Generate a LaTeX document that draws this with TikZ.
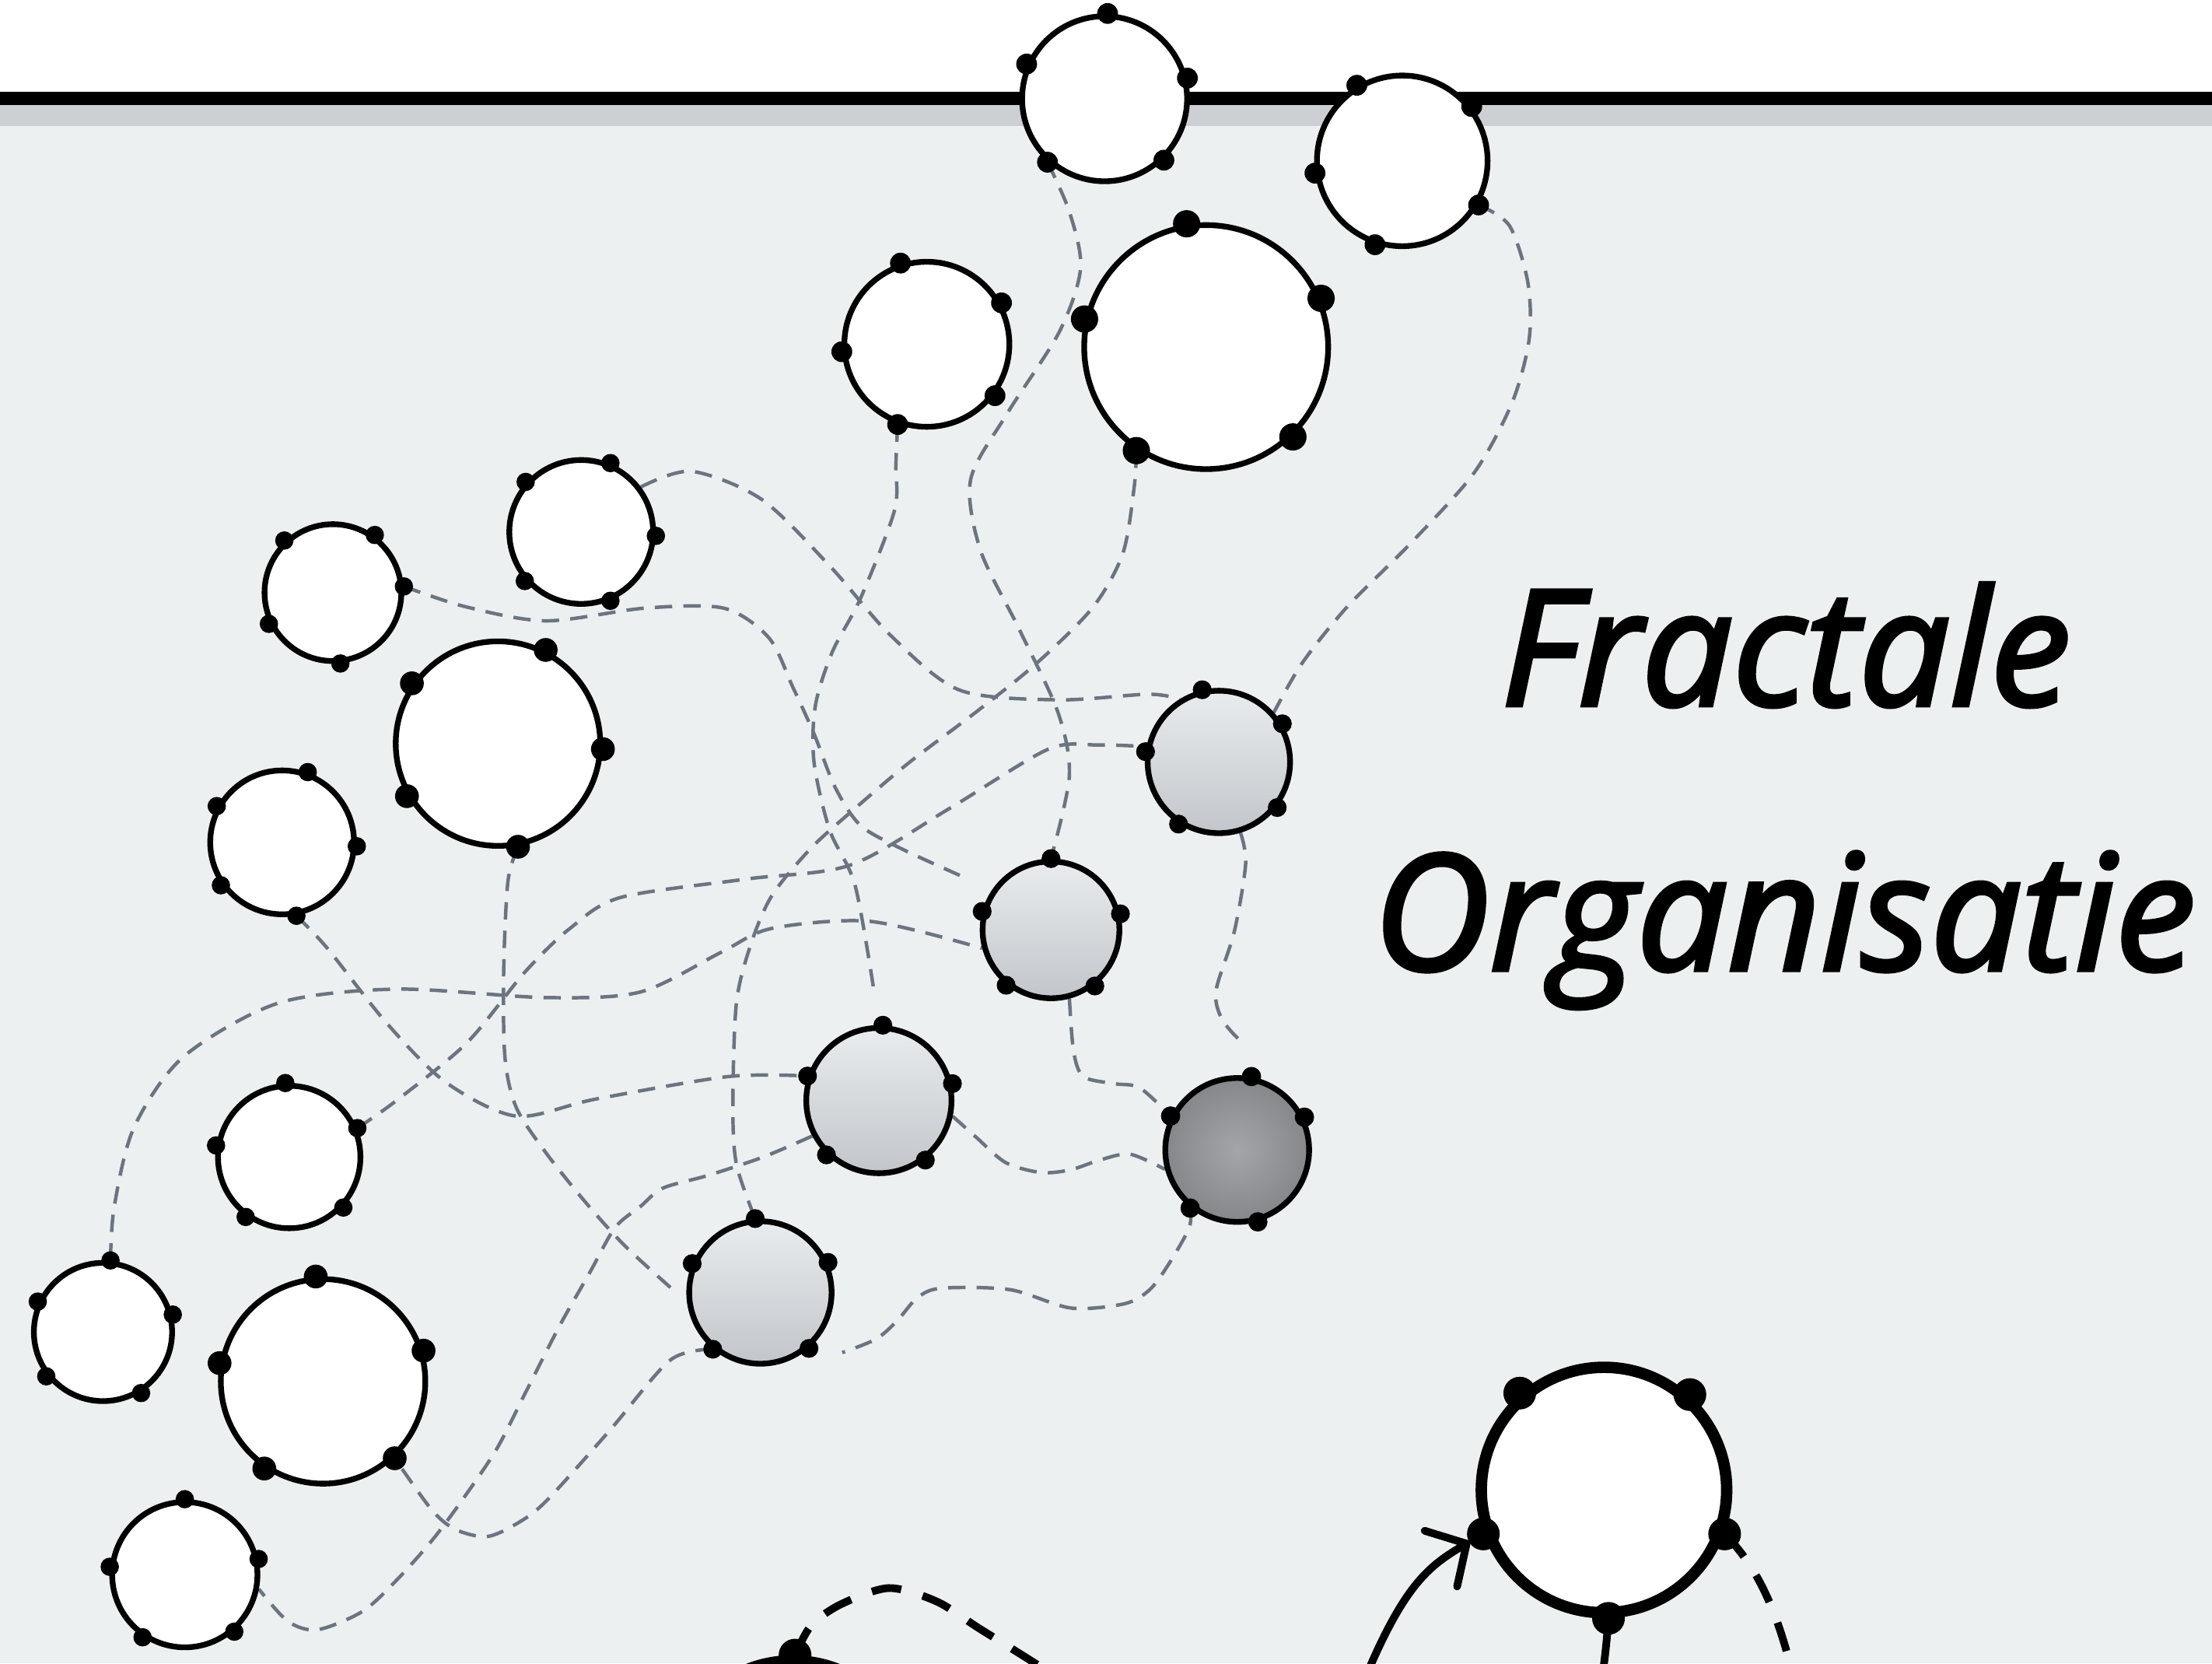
\documentclass[tikz,border=0pt]{standalone}
\usepackage{fontspec}
\newfontfamily\titlefont[FakeBold=2.5]{Open Sans}
\usetikzlibrary{arrows.meta}
\definecolor{panel}{HTML}{ECF0F1}
\definecolor{strip}{HTML}{CCD0D5}
\definecolor{linkgray}{HTML}{6B7480}
\definecolor{shadetop}{HTML}{E9ECEE}
\definecolor{shadebot}{HTML}{C2C6CA}
\definecolor{darkin}{HTML}{A3A5A9}
\definecolor{darkout}{HTML}{6A6B6E}
\pgfdeclareradialshading{darkball}{\pgfpointorigin}{color(0bp)=(darkin); color(48bp)=(darkout); color(50bp)=(darkout)}
\pgfdeclarelayer{back}
\pgfdeclarelayer{links}
\pgfsetlayers{back,links,main}
\tikzset{
  cell/.style={circle, draw=black, line width=2.3pt, fill=white, inner sep=0pt},
  team/.style={cell, top color=shadetop, bottom color=shadebot},
  core/.style={cell, shading=darkball},
  hub/.style={cell, line width=4.6pt},
  link/.style={draw=linkgray, line width=1.4pt, dash pattern=on 7pt off 4.5pt},
  flow/.style={draw=black, line width=3.1pt},
  flowdash/.style={flow, dash pattern=on 12pt off 9pt},
  title/.style={font=\titlefont\itshape\fontsize{65}{78}\selectfont, anchor=base, inner sep=0pt}
}
\begin{document}
\begin{tikzpicture}[x=0.02cm, y=-0.02cm]
  \useasboundingbox (0,0) rectangle (1568,1179);
  \begin{pgfonlayer}{back}
    \fill[white] (0,0) rectangle (1568,1179);
    \fill[panel] (0,89.3) rectangle (1568,1179);
    \fill[strip] (0,74.4) rectangle (1568,89.3);
    \draw[line width=5.3pt] (0,69.8) -- (1568,69.8);
  \end{pgfonlayer}

  \foreach \n/\x/\y/\r/\s in {
    1/783/70/58.5/cell, 2/994/114/60.5/cell, 3/657/244/58.5/cell,
    4/855/246/86.5/cell, 5/412/377/51/cell, 6/236/420/48.5/cell,
    7/353/527/72.5/cell, 8/200/597/51/cell, 9/864/540/50.5/team,
    10/745/659/48.5/team, 11/623/780/51.5/team, 12/877/815/51/core,
    13/205/820/50.5/cell, 14/539/916/50.5/team, 15/73/944/49/cell,
    16/229/979/72.5/cell, 17/131/1116/51.5/cell, 18/1137/1056/87/hub,
    19/562/1264/87/hub}
    \node[\s, minimum size=\r*0.04cm] (c\n) at (\x,\y) {};

  \foreach \n/\d/\angs in {
    1/4.2/{88,156,14,228,314}, 2/4.2/{121,38,188,330,252},
    3/4.2/{108,29,185,323.5,250}, 4/5.5/{99,23,167,314,236},
    5/3.7/{138,67,357,221,293}, 6/3.7/{133,54,5,206,276},
    7/4.8/{63,145,357,210,281}, 8/3.7/{70,151,357,215,281},
    9/3.8/{103,31,172,322,237}, 10/3.8/{90,13,165,231,308},
    11/3.8/{87,161,13,226,308}, 12/3.9/{79,26,153,231,286},
    13/3.7/{93,171,23,234,317}, 14/3.8/{94,157,24,230,311},
    15/3.7/{84,155,14,218,302}, 16/4.8/{94,170,17,236,313},
    17/3.7/{90,174,12,236,311}, 18/6.6/{131,48,200,340,272},
    19/6.6/{89}}
    \foreach \a in \angs \fill (c\n.\a) circle (\d pt);

  \node[title] (fractale) at (1266,500) {Fractale};
  \node[title] (organisatie) at (1265,687.5) {Organisatie};

  \coordinate (e3) at (619,699);
  \coordinate (e4) at (684,622);
  \coordinate (e7) at (477,914);
  \coordinate (e18) at (877.5,736);
  \coordinate (e21) at (597,958.6);
  \coordinate (a0) at (948,1240);
  \coordinate (b1) at (1126,1235);
  \coordinate (b2) at (1280,1235);
  \coordinate (b3) at (765,1200);

  \begin{pgfonlayer}{links}
    \draw[link] plot[smooth] coordinates {(c1.228) (758,150) (766,190) (751,235) (714,293) (688,340) (695,390) (722,445) (750,505) (758,550) (c10.90)};
    \draw[link] plot[smooth] coordinates {(c2.330) (1070,160) (1083,200) (1084,240) (1072,285) (1045,335) (1000,385) (955,430) (923,470) (c9.42)};
    \draw[link] plot[smooth] coordinates {(c3.250) (635,330) (634,362) (610,424) (590,462) (578,500) (577,540) (588,588) (606,627) (e3)};
    \draw[link] plot[smooth] coordinates {(c6.5) (330,430) (387,440) (457,431) (513,431) (545,452) (562,487) (577,520) (592,558) (610,585) (640,602) (e4)};
    \draw[link] plot[smooth] coordinates {(c5.37) (490,334) (540,354) (589,402) (631,450) (680,489) (750,496) (814,492) (c9.122)};
    \draw[link] plot[smooth] coordinates {(c7.281) (360,625) (357,690) (358,750) (366,785) (387,817) (415,852) (443,883) (e7)};
    \draw[link] plot[smooth] coordinates {(c8.281) (232,672) (274,725) (316,767) (366,791) (422,779) (516,763) (c11.161)};
    \draw[link] plot[smooth] coordinates {(c15.84) (81,855) (95,799) (130,749) (197,711) (281,701) (387,707) (454,703) (511,675) (547,658) (617,653) (c10.195)};
    \draw[link] plot[smooth] coordinates {(c13.23) (281,780) (331,739) (372,689) (404,658) (440,636) (529,623) (603,613) (673,573) (743,531) (779,528) (c9.168)};
    \draw[link] plot[smooth] coordinates {(c4.236) (804,345) (796,392) (775,430) (736,469) (694,503) (645,540) (606,573) (575,601) (547,635) (532,670) (522,711) (519.5,783) (522,825) (c14.94)};
    \draw[link] plot[smooth] coordinates {(c9.287) (883,612) (875,660) (862,702) (866,722) (e18)};
    \draw[link] plot[smooth] coordinates {(c10.285) (761,745) (768,763) (790,768) (808,771) (c12.153)};
    \draw[link] plot[smooth] coordinates {(c11.348) (692,806) (713,824) (738,831) (759,829) (780,822) (801,818) (c12.195)};
    \draw[link] plot[smooth] coordinates {(c12.231) (843,870) (829,895) (815,914) (797,924) (759,927) (716,914) (667,913) (650,920) (636,936) (621,949) (e21)};
    \draw[link] plot[smooth] coordinates {(c14.230) (475,964) (432,1014) (387,1064) (366,1080) (345,1089) (323,1084) (306,1070) (c16.313)};
    \draw[link] plot[smooth] coordinates {(c11.208) (541,820) (502,833) (470,842) (454,855) (436,870) (418,902) (397,939) (373,986) (352,1027) (327,1064) (306,1092) (281,1120) (257,1142) (225,1155) (204,1149) (c17.349)};

    \draw[flow, -{Straight Barb[length=12pt, width=26pt, round]}, shorten >=0.22cm] (a0) .. controls (988,1130) and (1007,1113) .. (c18.200);
    \draw[flow] (c18.272) .. controls (1137,1190) and (1132,1210) .. (b1);
    \draw[flowdash] (c18.340) .. controls (1245,1110) and (1266,1145) .. (b2);
    \draw[flowdash] plot[smooth] coordinates {(c19.89) (575,1152) (596,1137) (630,1125.5) (664,1135) (694,1154) (734,1179) (b3)};
  \end{pgfonlayer}
\end{tikzpicture}
\end{document}
